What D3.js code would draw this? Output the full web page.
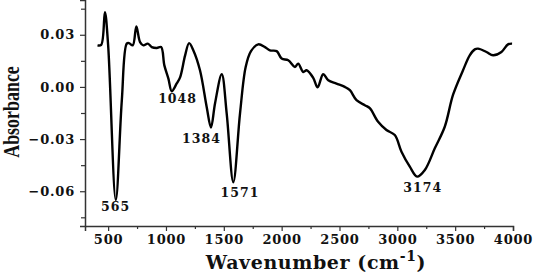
<!DOCTYPE html>
<html>
<head>
<meta charset="utf-8">
<script src="https://cdn.jsdelivr.net/npm/d3@7"></script>
<style>
  body { margin: 0; background: #fff; }
  svg { display: block; }
</style>
</head>
<body>
<div id="chart"></div>
<script>
// spectrum
var wavenumber = [408, 440, 472, 500, 566, 618, 661, 681, 713, 744, 776, 805, 843, 877, 921, 958,
  986, 1021, 1050, 1093, 1122, 1165, 1200, 1237, 1294, 1352, 1389, 1424, 1482, 1525, 1582, 1640,
  1689, 1735, 1798, 1856, 1899, 1957, 2000, 2057, 2115, 2143, 2187, 2216, 2273, 2311, 2359, 2403,
  2474, 2546, 2590, 2647, 2719, 2762, 2834, 2906, 2978, 3036, 3108, 3171, 3238, 3324, 3410, 3482,
  3568, 3626, 3670, 3698, 3770, 3828, 3900, 3957, 3992];
var absorbance = [0.0239, 0.0242, 0.043, 0.024, -0.065, -0.008, 0.0249, 0.0252, 0.0239, 0.0348, 0.0258, 0.0239, 0.0249, 0.0229, 0.0224, 0.0229,
  0.0124, 0.0048, -0.0025, 0.002, 0.0055, 0.018, 0.0252, 0.021, 0.0096, -0.0115, -0.0233, -0.0095, 0.0073, -0.0153, -0.0548, -0.0153,
  0.0115, 0.0206, 0.0245, 0.0229, 0.021, 0.0206, 0.0163, 0.0153, 0.0115, 0.0134, 0.0086, 0.0096, 0.0052, -0.0002, 0.0073, 0.0038,
  0.0019, 0, -0.0019, -0.0076, -0.0105, -0.0122, -0.0201, -0.0248, -0.0277, -0.0373, -0.0459, -0.0516, -0.0478, -0.0353, -0.0229, -0.0045,
  0.0096, 0.0182, 0.0216, 0.022, 0.0201, 0.0182, 0.0201, 0.0245, 0.0249];

// peak annotations: text and where the label sits (data units)
var peakLabels = ["565", "1048", "1384", "1571", "3174"];
var peakLabelX = [565, 1100, 1307, 1640, 3220];
var peakLabelY = [-0.0713, -0.0094, -0.0323, -0.0633, -0.0604];

var xTicks = [500, 1000, 1500, 2000, 2500, 3000, 3500, 4000];
var xMinor = [750, 1250, 1750, 2250, 2750, 3250, 3750];
var yTicks = [-0.06, -0.03, 0.00, 0.03];
var yMinor = [-0.075, -0.045, -0.015, 0.015, 0.045];

var W = 533, H = 273;
var x = d3.scaleLinear().domain([300, 4000]).range([85, 513]);
var y = d3.scaleLinear().domain([-0.08, 0.05]).range([226, 0]);

var svg = d3.select("#chart").append("svg")
  .attr("width", W).attr("height", H);

var serif = "'DejaVu Serif', serif";
var axisColor = "#333";

// x axis
var gx = svg.append("g").attr("transform", "translate(0,226)")
  .call(d3.axisBottom(x).tickValues(xTicks).tickSize(5).tickPadding(4).tickFormat(d3.format("d")));
svg.append("g").attr("transform", "translate(0,226)")
  .call(d3.axisBottom(x).tickValues(xMinor).tickSize(3).tickFormat(""))
  .select(".domain").remove();

// y axis
var gy = svg.append("g").attr("transform", "translate(85,0)")
  .call(d3.axisLeft(y).tickValues(yTicks).tickSize(5).tickPadding(5).tickFormat(d3.format(".2f")));
svg.append("g").attr("transform", "translate(85,0)")
  .call(d3.axisLeft(y).tickValues(yMinor).tickSize(4).tickFormat(""))
  .select(".domain").remove();

svg.selectAll(".domain").attr("stroke", axisColor).attr("stroke-width", 1.5);
svg.selectAll(".tick line").attr("stroke", axisColor).attr("stroke-width", 1.2);
svg.selectAll(".tick text")
  .style("font-family", serif).style("font-weight", "bold")
  .style("font-size", "13px").attr("fill", "#111")
  .style("letter-spacing", "0.8px");

// the spectrum
var pts = wavenumber.map(function(w, i) { return [w, absorbance[i]]; });
var line = d3.line()
  .x(function(d) { return x(d[0]); })
  .y(function(d) { return y(d[1]); })
  .curve(d3.curveCatmullRom.alpha(0.5));

svg.append("path")
  .datum(pts)
  .attr("d", line)
  .attr("fill", "none")
  .attr("stroke", "#000")
  .attr("stroke-width", 2.4)
  .attr("stroke-linejoin", "round");

// peak labels
svg.selectAll(".peak")
  .data(peakLabels)
  .enter().append("text")
  .attr("class", "peak")
  .attr("x", function(d, i) { return x(peakLabelX[i]); })
  .attr("y", function(d, i) { return y(peakLabelY[i]); })
  .attr("text-anchor", "middle")
  .style("font-family", serif).style("font-weight", "bold")
  .style("font-size", "12.5px").style("letter-spacing", "1px")
  .attr("fill", "#111")
  .text(function(d) { return d; });

// axis titles
svg.append("text")
  .attr("transform", "translate(19,112) rotate(-90) scale(0.78,1)")
  .attr("text-anchor", "middle")
  .style("font-family", "'Liberation Serif', serif").style("font-weight", "bold")
  .style("font-size", "23px").attr("fill", "#111")
  .text("Absorbance");

var xt = svg.append("text")
  .attr("x", 316).attr("y", 269)
  .attr("text-anchor", "middle")
  .style("font-family", serif).style("font-weight", "bold")
  .style("font-size", "19px").style("letter-spacing", "0.6px").attr("fill", "#111");
xt.append("tspan").text("Wavenumber (cm");
xt.append("tspan").attr("dy", -8).style("font-size", "14px").text("-1");
xt.append("tspan").attr("dy", 8).text(")");
</script>
</body>
</html>
